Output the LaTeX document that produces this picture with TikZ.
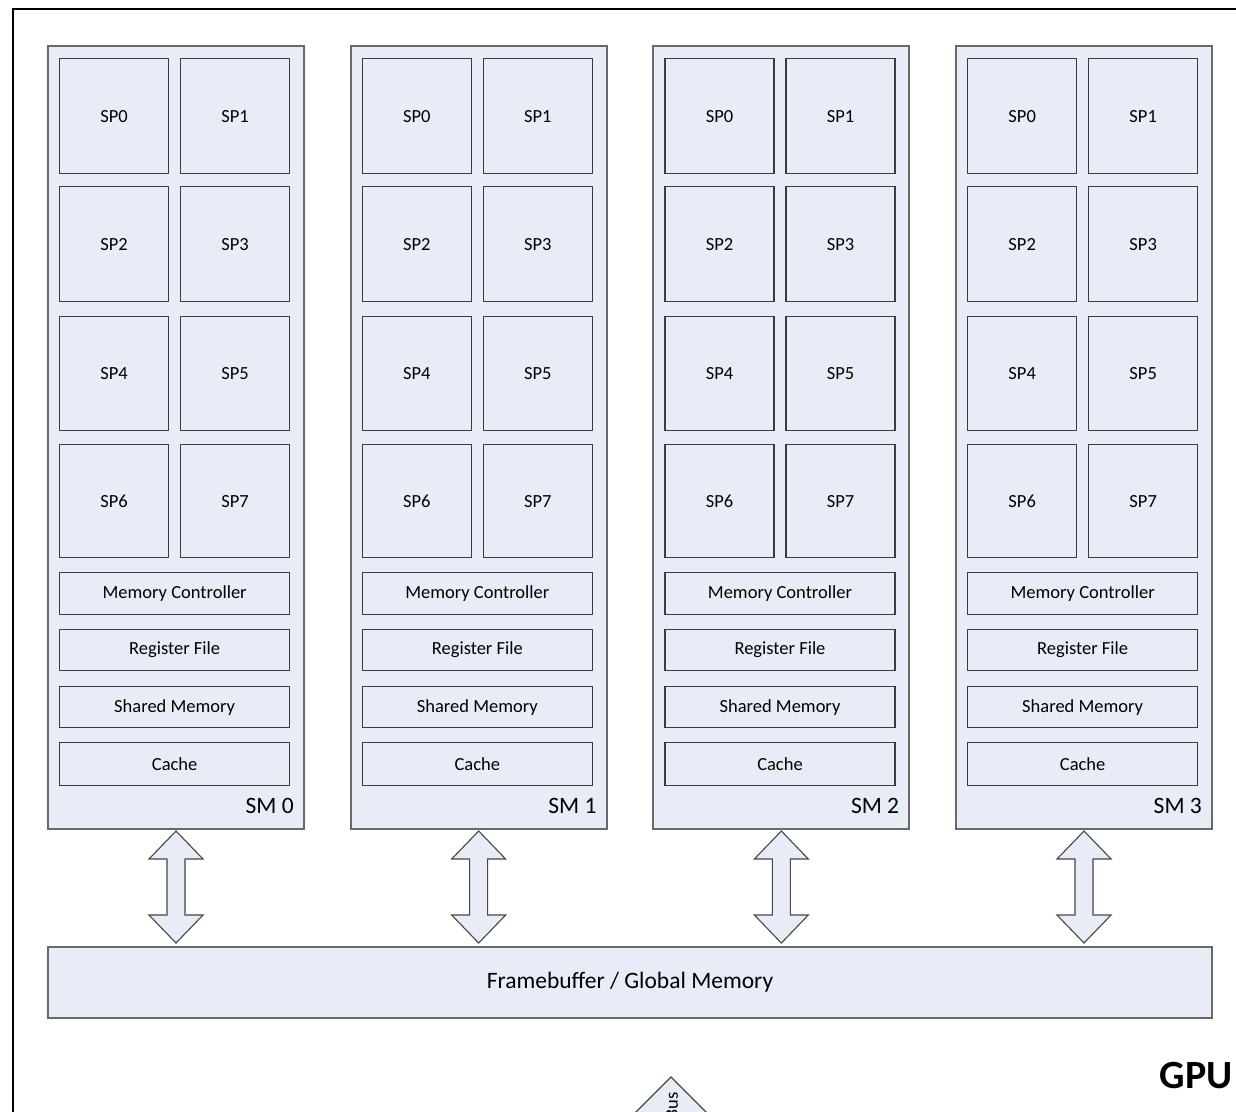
\documentclass[tikz,border=0pt]{standalone}
\usepackage{fontspec}
\setmainfont{Carlito}
\usetikzlibrary{calc}
\definecolor{boxfill}{RGB}{231,236,246}
\definecolor{smedge}{RGB}{105,105,105}
\definecolor{unitedge}{RGB}{60,60,60}
\definecolor{arrowedge}{RGB}{70,70,70}
\begin{document}
\begin{tikzpicture}[x=1pt,y=-1pt,
  smbox/.style={draw=smedge, line width=2pt, fill=boxfill, anchor=north west, inner sep=0pt},
  unit/.style={draw=unitedge, line width=1.3pt, fill=boxfill, anchor=north west, inner sep=0pt,
    font=\fontsize{18.5}{20}\selectfont},
  smlabel/.style={anchor=east, inner sep=0pt, font=\fontsize{23.5}{26}\selectfont},
  dblarrow/.style={draw=arrowedge, line width=1.1pt, fill=boxfill, line join=miter},
  gpulabel/.style={anchor=east, inner sep=0pt, font=\fontsize{40}{44}\selectfont\bfseries}]
  \useasboundingbox (0,0) rectangle (1236,1111);
  \clip (0,0) rectangle (1236,1111);

  % enclosing GPU frame (continues past the right and bottom edges)
  \draw[line width=2.5pt] (13,9) rectangle (1300,1200);

  % shared global memory
  \node[smbox, minimum width=1164pt, minimum height=71pt,
    font=\fontsize{23.5}{26}\selectfont] (fb) at (47,946) {Framebuffer / Global Memory};

  % streaming multiprocessors
  \foreach \k in {0,...,3}{
    \pgfmathsetmacro{\L}{47+302.67*\k}
    \node[smbox, minimum width=256pt, minimum height=783pt] (sm\k) at (\L,45) {};
    \foreach \top/\h/\a/\b in {58/115/0/1, 186/115/2/3, 316/114/4/5, 444/113/6/7}{
      \node[unit, minimum width=109pt, minimum height=\h pt] (sm\k-sp\a) at (\L+12,\top) {SP\a};
      \node[unit, minimum width=109pt, minimum height=\h pt] (sm\k-sp\b) at (\L+133,\top) {SP\b};
    }
    \foreach \top/\h/\name/\txt in {572/42/mc/Memory Controller, 629/41/rf/Register File,
                                   686/41/sh/Shared Memory, 742/43/ca/Cache}{
      \node[unit, minimum width=230pt, minimum height=\h pt] (sm\k-\name) at (\L+12,\top) {\txt};
    }
    \node[smlabel] (sm\k-lbl) at ($(sm\k.south east)+(-11,-24)$) {SM \k};
  }

  % two-way links between each SM and global memory
  \foreach \k in {0,...,3}{
    \draw[dblarrow] let \p1=(sm\k.south), \p2=(fb.north) in
      (\x1,\y1-1pt) -- ++(27pt,-28pt) -- ++(-18pt,0pt) -- (\x1+9pt,\y2+31pt)
      -- ++(18pt,0pt) -- (\x1,\y2+3pt) -- ++(-27pt,28pt) -- ++(18pt,0pt)
      -- (\x1-9pt,\y1-29pt) -- ++(-18pt,0pt) -- cycle;
  }

  % bus to the host, leaving through the bottom edge
  \coordinate (bustip) at (671,1077);
  \draw[dblarrow] (bustip) -- ++(60,60) -- ++(-120,0) -- cycle;
  \node[rotate=90, anchor=east, inner sep=0pt, font=\fontsize{18.5}{20}\selectfont]
    (buslbl) at (672,1092) {Bus};

  \node[gpulabel] (gpu) at (1233,1076) {GPU};
\end{tikzpicture}
\end{document}
